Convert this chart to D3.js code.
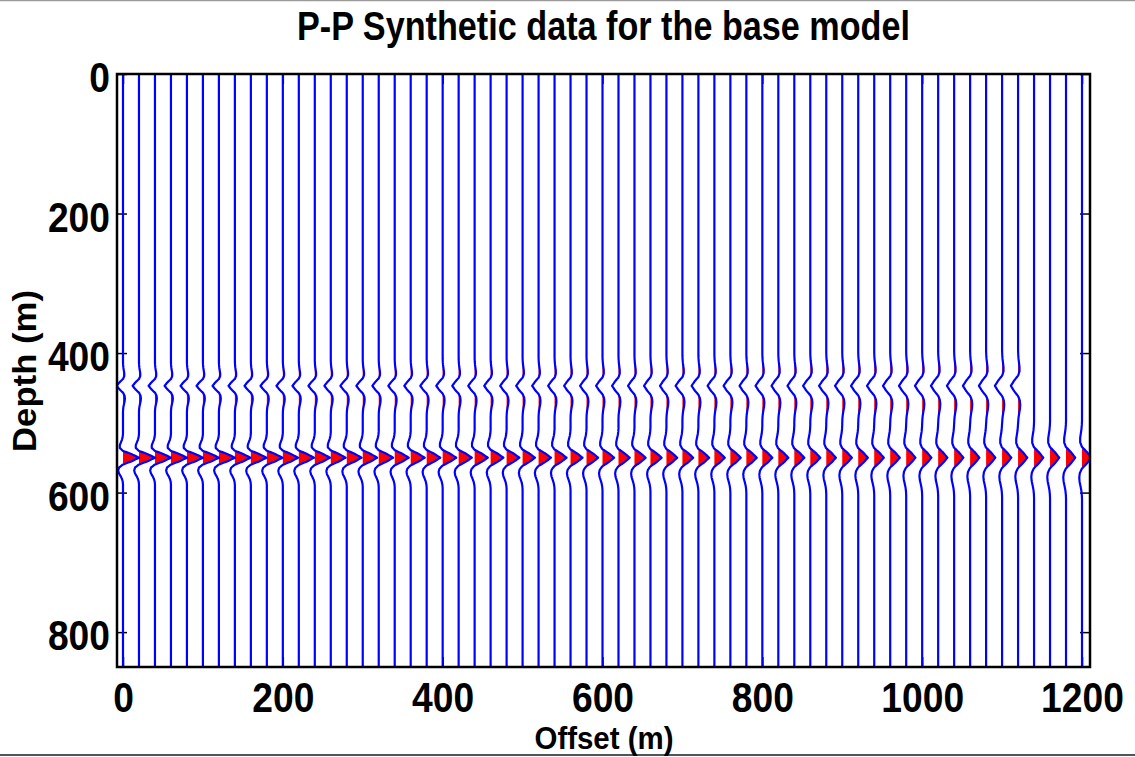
<!DOCTYPE html>
<html><head><meta charset="utf-8">
<script src="https://cdn.jsdelivr.net/npm/d3@7"></script>
<style>
html,body{margin:0;padding:0;background:#fff;}
svg{display:block;font-family:"Liberation Sans",Arial,sans-serif;}
</style></head>
<body>
<svg id="chart" width="1135" height="757"></svg>
<script>
// ---------- data ----------
const offsets = [0,20,40,60,80,100,120,140,160,180,200,220,240,260,280,300,320,340,360,380,400,420,440,460,480,500,520,540,560,580,600,620,640,660,680,700,720,740,760,780,800,820,840,860,880,900,920,940,960,980,1000,1020,1040,1060,1080,1100,1120,1140,1160,1180,1200];
// strong reflector near 550 m: peak deflection (m of offset) per trace
const deepDepth = 550;
const deepAmp = [20,20,20,20,20,20,20,19.5,19.5,19.5,19,19,19,18.5,18.5,18,18,17.5,17.5,17,17,16.5,16.5,16,16,15.5,15.5,15,15,14.5,14.5,14,14,14,13.5,13.5,13.5,13,13,13,12.5,12.5,12.5,12.5,12,12,12,12,12,11.5,11.5,11.5,11.5,11.5,11.5,11.5,11.5,11.5,11.5,11.5,11.5];
const deepStretch = [1.0,1.0,1.0,1.0,1.0,1.0,1.0,1.02,1.02,1.03,1.04,1.05,1.06,1.07,1.08,1.09,1.1,1.11,1.12,1.13,1.14,1.15,1.16,1.17,1.18,1.19,1.2,1.21,1.22,1.23,1.24,1.25,1.26,1.27,1.28,1.29,1.3,1.31,1.32,1.33,1.34,1.35,1.36,1.37,1.38,1.39,1.4,1.41,1.42,1.43,1.44,1.45,1.46,1.47,1.48,1.49,1.5,1.52,1.54,1.56,1.58];
// weaker reflector near 447 m (trough), absent on the farthest traces
const shallowDepth = 447;
const shallowAmp = [-8,-8,-8,-8,-8,-8,-8,-8,-8,-8,-8,-8,-8,-8,-8,-8,-8,-8,-8,-8,-8,-8,-8,-8,-8,-8,-8,-8,-8,-8,-8,-8,-8,-8,-8,-8.5,-8.5,-8.5,-8.5,-8.5,-8.5,-8.5,-8.5,-9,-9,-9,-9,-9,-9,-9,-9,-9,-9,-9,-9,-9,-9,0,0,0,0];
const shallowStretch = [1.0,1.0,1.0,1.0,1.0,1.0,1.0,1.02,1.02,1.03,1.04,1.05,1.06,1.07,1.08,1.09,1.1,1.11,1.12,1.13,1.14,1.15,1.16,1.17,1.18,1.19,1.2,1.21,1.22,1.23,1.24,1.25,1.26,1.27,1.28,1.29,1.3,1.31,1.32,1.33,1.34,1.35,1.36,1.37,1.38,1.39,1.4,1.41,1.42,1.43,1.44,1.45,1.46,1.47,1.48,1.49,1.5,1.52,1.54,1.56,1.58];
// wavelet shape (relative depth in m, normalised amplitude)
const waveletZ = [-34,-30,-26,-22,-18,-14,-10,-5,0,5,10,14,18,22,26,30,34,38];
const waveletA = [0,-0.02,-0.06,-0.13,-0.2,-0.2,-0.02,0.55,1,0.55,-0.02,-0.24,-0.3,-0.26,-0.16,-0.07,-0.02,0];
const xTicks = [0,200,400,600,800,1000,1200];
const yTicks = [0,200,400,600,800];
const titleText = "P-P Synthetic data for the base model";
const xLabel = "Offset (m)";
const yLabel = "Depth (m)";

// ---------- layout ----------
const L = 117, R = 1090, T = 74, B = 667;
const svg = d3.select("#chart");
const x = d3.scaleLinear().domain([-7.5, 1210]).range([L, R]);
const y = d3.scaleLinear().domain([0, 850]).range([T, B]);
const wav = d3.scaleLinear().domain(waveletZ).range(waveletA).clamp(true);
const fmt = d => String(d);

// page border lines
svg.append("line").attr("x1",0).attr("x2",1135).attr("y1",0.5).attr("y2",0.5).attr("stroke","#9a9a9a").attr("stroke-width",1.5);
svg.append("line").attr("x1",0).attr("x2",1135).attr("y1",755).attr("y2",755).attr("stroke","#4a5660").attr("stroke-width",2);

svg.append("clipPath").attr("id","clip").append("rect")
  .attr("x",L).attr("y",T).attr("width",R-L).attr("height",B-T);

// ticks (under traces)
const ax = svg.append("g");
ax.append("g").attr("transform",`translate(${L},0)`)
  .call(d3.axisLeft(y).tickValues(yTicks).tickFormat(fmt).tickSizeInner(-10).tickSizeOuter(0).tickPadding(7))
  .call(g=>{g.select(".domain").remove();
    g.selectAll("text").attr("font-size",42).attr("font-weight","bold").attr("fill","#000")
     .attr("dy","0.42em").attr("textLength",d=>fmt(d).length*20.7).attr("lengthAdjust","spacingAndGlyphs");
    g.selectAll("line").attr("stroke","#000").attr("stroke-width",1.5);});
ax.append("g").attr("transform",`translate(${R},0)`)
  .call(d3.axisRight(y).tickValues(yTicks).tickSizeInner(-10).tickSizeOuter(0).tickFormat(""))
  .call(g=>{g.select(".domain").remove();g.selectAll("line").attr("stroke","#000").attr("stroke-width",1.5);});
ax.append("g").attr("transform",`translate(0,${B})`)
  .call(d3.axisBottom(x).tickValues(xTicks).tickFormat(fmt).tickSizeInner(-10).tickSizeOuter(0).tickPadding(15))
  .call(g=>{g.select(".domain").remove();
    g.selectAll("text").attr("font-size",42).attr("font-weight","bold").attr("fill","#000")
     .attr("textLength",d=>fmt(d).length*20.7).attr("lengthAdjust","spacingAndGlyphs");
    g.selectAll("line").attr("stroke","#000").attr("stroke-width",1.5);});
ax.append("g").attr("transform",`translate(0,${T})`)
  .call(d3.axisTop(x).tickValues(xTicks).tickSizeInner(-10).tickSizeOuter(0).tickFormat(""))
  .call(g=>{g.select(".domain").remove();g.selectAll("line").attr("stroke","#000").attr("stroke-width",1.5);});

// traces
const depths = d3.range(0, 851, 1);
const traces = offsets.map((o,i)=>({
  offset:o,
  pts: depths.map(z=>({z, v: deepAmp[i]*wav((z-deepDepth)/deepStretch[i]) + shallowAmp[i]*wav((z-shallowDepth)/shallowStretch[i])}))
}));
const tg = svg.append("g").attr("clip-path","url(#clip)");
traces.forEach(t=>{
  const area = d3.area().y(d=>y(d.z)).x0(x(t.offset)).x1(d=>x(t.offset+Math.max(0,d.v)));
  tg.append("path").attr("d",area(t.pts)).attr("fill","#ff0000").attr("stroke","none");
});
traces.forEach(t=>{
  const line = d3.line().y(d=>y(d.z)).x(d=>x(t.offset+d.v));
  tg.append("path").attr("d",line(t.pts)).attr("fill","none").attr("stroke","#0000ff").attr("stroke-width",2.2).attr("stroke-linejoin","round");
});

// box
svg.append("rect").attr("x",L).attr("y",T).attr("width",R-L).attr("height",B-T)
  .attr("fill","none").attr("stroke","#000").attr("stroke-width",2.5);

// title and labels
svg.append("text").attr("x",(L+R)/2).attr("y",40).attr("text-anchor","middle")
  .attr("font-size",40).attr("font-weight","bold").attr("textLength",613).attr("lengthAdjust","spacingAndGlyphs").text(titleText);
svg.append("text").attr("x",(L+R)/2+0.5).attr("y",749).attr("text-anchor","middle")
  .attr("font-size",32).attr("font-weight","bold").attr("textLength",139).attr("lengthAdjust","spacingAndGlyphs").text(xLabel);
svg.append("text").attr("transform","translate(36,371) rotate(-90)").attr("text-anchor","middle")
  .attr("font-size",33).attr("font-weight","bold").attr("textLength",162).attr("lengthAdjust","spacingAndGlyphs").text(yLabel);
</script>
</body></html>
